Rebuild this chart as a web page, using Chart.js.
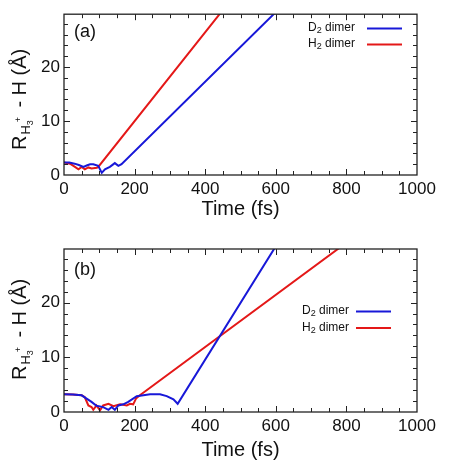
<!DOCTYPE html>
<html>
<head>
<meta charset="utf-8">
<script src="https://cdn.jsdelivr.net/npm/chart.js@4.4.0/dist/chart.umd.min.js"></script>
<style>
html, body { margin: 0; padding: 0; background: #fff; }
#wrap { position: relative; width: 474px; height: 469px; }
canvas { position: absolute; left: 0; }
</style>
</head>
<body>
<div id="wrap">
    <canvas id="chartA" width="474" height="230" style="top:0px"></canvas>
    <canvas id="chartB" width="474" height="239" style="top:230px"></canvas>
</div>
<script>
// tick labels
const xTicks = [0, 200, 400, 600, 800, 1000];
const yTicks = [0, 10, 20];
const seriesNames = ['D2 dimer', 'H2 dimer'];
const seriesColors = ['#1818d8', '#e41818'];

// panel (a)
const tA_D2 = [0, 15, 30, 42, 55, 66, 74, 83, 97, 107, 116, 130, 144, 154, 163, 597];
const rA_D2 = [2.3, 2.3, 2.1, 1.85, 1.5, 1.8, 2.0, 2.0, 1.7, 0.4, 1.05, 1.5, 2.2, 1.7, 2.0, 30];
const tA_H2 = [0, 17, 31, 41, 50, 59, 69, 78, 93, 97, 443];
const rA_H2 = [2.3, 2.1, 1.5, 1.05, 1.5, 1.05, 1.4, 1.2, 1.35, 1.5, 30];

// panel (b)
const tB_D2 = [0, 25, 50, 64, 78, 92, 111, 126, 135, 144, 154, 168, 182, 206, 244, 272, 291, 310, 322, 597];
const rB_D2 = [3.25, 3.2, 3.05, 2.45, 1.85, 1.15, 0.9, 0.4, 0.9, 0.4, 1.2, 1.4, 1.85, 2.9, 3.25, 3.25, 2.9, 2.3, 1.5, 30];
const tB_H2 = [0, 25, 50, 59, 69, 78, 83, 92, 102, 111, 126, 140, 159, 178, 187, 196, 204, 215, 780];
const rB_H2 = [3.25, 3.2, 3.05, 2.7, 1.2, 0.9, 0.4, 1.2, 0.3, 1.2, 1.5, 1.05, 1.4, 1.2, 1.5, 1.4, 2.45, 3.05, 30];

const FONT = '"Liberation Sans", Arial, sans-serif';

function pts(t, r) {
    return t.map((v, i) => ({ x: v, y: r[i] }));
}

// frame, inner ticks, y title, panel letter, legend
const decor = {
    id: 'decor',
    afterDraw(chart, args, opts) {
        const ctx = chart.ctx;
        const a = chart.chartArea;
        const xs = chart.scales.x, ys = chart.scales.y;
        ctx.save();
        ctx.strokeStyle = '#222';
        ctx.lineWidth = 1.3;
        ctx.strokeRect(a.left, a.top, a.right - a.left, a.bottom - a.top);

        ctx.lineWidth = 1;
        ctx.beginPath();
        for (let t = 50; t < 1000; t += 50) {
            const px = Math.round(xs.getPixelForValue(t)) + 0.5;
            const len = t % 200 === 0 ? 6 : 4;
            ctx.moveTo(px, a.bottom); ctx.lineTo(px, a.bottom - len);
            ctx.moveTo(px, a.top); ctx.lineTo(px, a.top + len);
        }
        for (let v = 2; v < 29.8; v += 2) {
            const py = Math.round(ys.getPixelForValue(v)) + 0.5;
            const len = v % 10 === 0 ? 6 : 4;
            ctx.moveTo(a.left, py); ctx.lineTo(a.left + len, py);
            ctx.moveTo(a.right, py); ctx.lineTo(a.right - len, py);
        }
        ctx.stroke();

        // y axis title: R_{H3+} - H (Å)
        ctx.fillStyle = '#111';
        ctx.translate(26, opts.titleBottom);
        ctx.rotate(-Math.PI / 2);
        ctx.textBaseline = 'alphabetic';
        ctx.textAlign = 'left';
        let x = 0;
        ctx.font = '20px ' + FONT;
        ctx.fillText('R', x, 0); x += ctx.measureText('R').width + 1;
        ctx.font = '13px ' + FONT;
        ctx.fillText('H', x, 4); x += ctx.measureText('H').width;
        ctx.font = '9px ' + FONT;
        ctx.fillText('3', x, 7);
        ctx.fillText('+', x + 3, -5); x += ctx.measureText('3').width + 5;
        ctx.font = '20px ' + FONT;
        ctx.fillText(' - H (\u00C5)', x + 2, 0);
        ctx.restore();

        // panel letter
        ctx.save();
        ctx.fillStyle = '#111';
        ctx.font = '18px ' + FONT;
        ctx.textBaseline = 'middle';
        ctx.fillText(opts.letter, 74, opts.letterY);

        // legend
        chart.data.datasets.forEach((ds, i) => {
            const y = opts.legendY + i * opts.legendGap;
            let lx = opts.legendX;
            ctx.fillStyle = '#111';
            ctx.font = '12px ' + FONT;
            ctx.textBaseline = 'middle';
            const head = ds.label.charAt(0);
            ctx.fillText(head, lx, y); lx += ctx.measureText(head).width;
            ctx.font = '9px ' + FONT;
            ctx.fillText(ds.label.charAt(1), lx, y + 3); lx += ctx.measureText('2').width;
            ctx.font = '12px ' + FONT;
            ctx.fillText(ds.label.slice(2), lx, y);
            ctx.strokeStyle = ds.borderColor;
            ctx.lineWidth = 2;
            ctx.beginPath();
            ctx.moveTo(opts.lineX0, y + 0.5);
            ctx.lineTo(opts.lineX1, y + 0.5);
            ctx.stroke();
        });
        ctx.restore();
    }
};

function makeChart(id, d2, h2, padTop, xHeight, titlePad, decorOpts) {
    const ctx = document.getElementById(id).getContext('2d');
    return new Chart(ctx, {
        type: 'line',
        data: {
            datasets: [
                {
                    label: seriesNames[0],
                    data: d2,
                    borderColor: seriesColors[0],
                    borderWidth: 2,
                    pointRadius: 0,
                    tension: 0
                },
                {
                    label: seriesNames[1],
                    data: h2,
                    borderColor: seriesColors[1],
                    borderWidth: 2,
                    pointRadius: 0,
                    tension: 0
                }
            ]
        },
        options: {
            responsive: false,
            animation: false,
            devicePixelRatio: 1,
            layout: { padding: { top: padTop, right: 57, left: 0, bottom: 0 } },
            plugins: {
                legend: { display: false },
                tooltip: { enabled: false },
                decor: decorOpts
            },
            scales: {
                x: {
                    type: 'linear',
                    min: 0,
                    max: 1000,
                    afterBuildTicks: (s) => { s.ticks = xTicks.map(v => ({ value: v })); },
                    afterFit: (s) => { s.height = xHeight; },
                    grid: { display: false, drawTicks: false },
                    border: { display: false },
                    ticks: {
                        color: '#111',
                        font: { family: FONT, size: 17 },
                        padding: 4,
                        maxRotation: 0,
                        callback: (v) => String(v)
                    },
                    title: {
                        display: true,
                        text: 'Time (fs)',
                        color: '#111',
                        font: { family: FONT, size: 20 },
                        padding: { top: 0, bottom: titlePad }
                    }
                },
                y: {
                    min: 0,
                    max: 29.8,
                    afterBuildTicks: (s) => { s.ticks = yTicks.map(v => ({ value: v })); },
                    afterFit: (s) => { s.width = 64; },
                    grid: { display: false, drawTicks: false },
                    border: { display: false },
                    ticks: { color: '#111', font: { family: FONT, size: 17 }, padding: 4, callback: (v) => String(v) }
                }
            }
        },
        plugins: [decor]
    });
}

makeChart('chartA', pts(tA_D2, rA_D2), pts(tA_H2, rA_H2), 13, 55, 9, {
    letter: '(a)', letterY: 32, titleBottom: 150,
    legendX: 308, legendY: 28, legendGap: 16, lineX0: 367, lineX1: 402
});
makeChart('chartB', pts(tB_D2, rB_D2), pts(tB_H2, rB_H2), 19, 57, 7, {
    letter: '(b)', letterY: 40, titleBottom: 150,
    legendX: 302, legendY: 81, legendGap: 16.5, lineX0: 356, lineX1: 391
});
</script>
</body>
</html>
